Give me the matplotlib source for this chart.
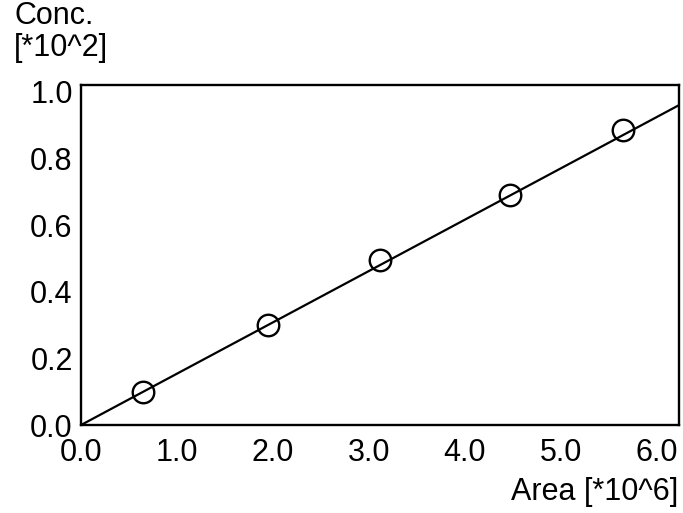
import matplotlib
matplotlib.use("Agg")
import matplotlib.pyplot as plt

# calibration data
area = [0.65, 1.95, 3.11, 4.47, 5.65]
conc = [0.10, 0.30, 0.495, 0.69, 0.886]
fit_x = [0.0, 6.23]
fit_y = [0.0, 0.96]
xticks = [0.0, 1.0, 2.0, 3.0, 4.0, 5.0, 6.0]
yticks = [0.0, 0.2, 0.4, 0.6, 0.8, 1.0]

plt.rcParams['font.family'] = ['Liberation Sans', 'DejaVu Sans']

fig = plt.figure(figsize=(6.83, 5.13), dpi=100)
ax = fig.add_axes([0.1186, 0.1715, 0.8755, 0.6625])

ax.plot(fit_x, fit_y, color='black', lw=1.6)
ax.plot(area, conc, 'o', ms=15.5, mfc='none', mec='black', mew=1.7)

ax.set_xlim(0, 6.23)
ax.set_ylim(0, 1.02)
ax.set_xticks(xticks)
ax.set_yticks(yticks)
ax.set_xticklabels([f"{v:.1f}" for v in xticks])
ax.set_yticklabels([f"{v:.1f}" for v in yticks])
ax.tick_params(length=0, labelsize=22)
ax.tick_params(axis='x', pad=9)
ax.tick_params(axis='y', pad=6)
for s in ax.spines.values():
    s.set_linewidth(1.7)

fig.text(14 / 683, 1 - 1 / 513, "Conc.\n[*10^2]", fontsize=22, va='top', ha='left',
         linespacing=1.1)
fig.text(678 / 683, 6 / 513, "Area [*10^6]", fontsize=22, va='bottom', ha='right')

fig.savefig("out.png", dpi=100)
